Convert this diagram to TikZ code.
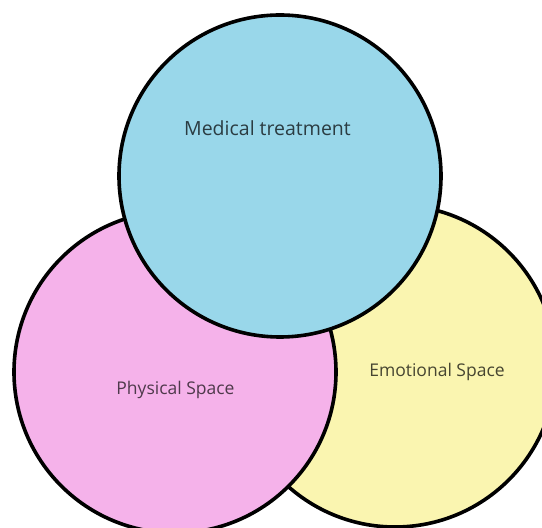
\documentclass[tikz,border=0pt]{standalone}
\usepackage{fontspec}
\setmainfont{Open Sans}
\usepackage{tikz}
\definecolor{medblue}{RGB}{153,215,234}
\definecolor{physpink}{RGB}{245,178,234}
\definecolor{emoyellow}{RGB}{250,245,176}

\begin{document}
\begin{tikzpicture}[x=1pt,y=1pt,
  venn/.style={circle,draw=black,line width=3.6pt,minimum size=322pt,inner sep=0pt},
  lbl/.style={anchor=base,inner sep=0pt,font=\fontsize{17.5}{20}\selectfont}]
\fill[white] (0,0) rectangle (542,528);
\clip (0,0) rectangle (542,528);
\node[venn,fill=emoyellow] (emo) at (395,162) {};
\node[venn,fill=physpink] (phys) at (175,156) {};
\node[venn,fill=medblue] (med) at (280,352) {};
\node[lbl,font=\fontsize{19.5}{22}\selectfont,text=black!72!medblue] (med_txt) at (267.5,392) {Medical treatment};
\node[lbl,text=black!68!physpink] (phys_txt) at (175.5,133) {Physical Space};
\node[lbl,text=black!72!emoyellow] (emo_txt) at (437,151) {Emotional Space};
\end{tikzpicture}
\end{document}
